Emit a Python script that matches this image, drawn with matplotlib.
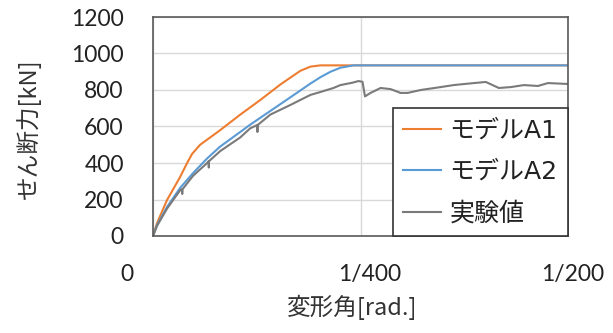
import matplotlib
matplotlib.use("Agg")
import matplotlib.pyplot as plt
from matplotlib.transforms import ScaledTranslation
import numpy as np

# drift angle in 1e-3 rad, shear force in kN
a1_x = [0, 0.048, 0.169, 0.326, 0.411, 0.471, 0.568, 0.809, 1.051, 1.292, 1.534, 1.775, 1.896, 2.017, 5.0]
a1_y = [0, 70, 197, 323, 400, 450, 500, 580, 665, 745, 830, 905, 928, 935, 935]

a2_x = [0, 0.048, 0.169, 0.326, 0.483, 0.652, 0.809, 1.051, 1.171, 1.413, 1.655, 1.896, 2.017, 2.138, 2.258, 2.415, 5.0]
a2_y = [0, 60, 159, 263, 345, 425, 490, 570, 610, 685, 760, 835, 870, 900, 922, 935, 935]

exp_x = [0, 0.048, 0.169, 0.326, 0.350, 0.352, 0.355, 0.483, 0.652, 0.670, 0.672, 0.675,
         0.809, 1.051, 1.171, 1.256, 1.258, 1.261, 1.413, 1.655, 1.896, 2.017, 2.174, 2.258,
         2.403, 2.476, 2.524, 2.554, 2.621, 2.742, 2.862, 2.983, 3.068, 3.225, 3.466, 3.623,
         3.865, 4.010, 4.167, 4.312, 4.469, 4.638, 4.758, 5.0]
exp_y = [0, 55, 150, 250, 256, 230, 256, 330, 400, 410, 375, 410,
         465, 540, 590, 608, 570, 608, 665, 718, 773, 789, 811, 827,
         840, 849, 845, 765, 784, 811, 805, 784, 784, 800, 816, 827,
         838, 844, 811, 816, 827, 822, 838, 833]

series_labels = ["モデルA1", "モデルA2", "実験値"]
series_colors = ["#ED7D31", "#5B9BD5", "#7A7A7A"]
x_ticks = [0, 1/400, 1/200]
x_tick_labels = ["0", "1/400", "1/200"]
y_ticks = [0, 200, 400, 600, 800, 1000, 1200]

JP = ["Noto Sans CJK JP", "DejaVu Sans"]
LEG = ["DejaVu Sans", "Noto Sans CJK JP"]
NUM = ["Lato", "DejaVu Sans"]

fig = plt.figure(figsize=(6.13, 3.33), dpi=100)
ax = fig.add_axes([153/613, 1-236/333, 415/613, 219/333])

for xs, ys, lab, col in zip([a1_x, a2_x, exp_x], [a1_y, a2_y, exp_y], series_labels, series_colors):
    ax.plot(np.array(xs)*1e-3, ys, color=col, lw=1.5, label=lab, solid_joinstyle="round")

ax.set_xlim(0, 0.005)
ax.set_ylim(0, 1200)
ax.set_xticks(x_ticks)
ax.set_xticklabels(x_tick_labels, family=NUM, fontsize=16.5, color="#222222")
ax.set_yticks(y_ticks)
ax.set_yticklabels([str(v) for v in y_ticks], family=NUM, fontsize=16.5, color="#222222")
ax.tick_params(axis="x", length=0, pad=20)
ax.tick_params(axis="y", length=0, pad=21)
offs = [-26, 9, 5]
for lbl, dx in zip(ax.get_xticklabels(), offs):
    lbl.set_transform(lbl.get_transform() + ScaledTranslation(dx/100, 0, fig.dpi_scale_trans))

ax.grid(True, color="#D9D9D9", lw=1)
ax.set_axisbelow(True)
for s in ax.spines.values():
    s.set_color("#595959")
    s.set_linewidth(1.2)

ax.set_ylabel("せん断力[kN]", family=JP, fontsize=17, color="#333333")
ax.yaxis.set_label_coords((28-153)/415, (236-129)/219)
ax.yaxis.label.set_va("center")
ax.set_xlabel("変形角[rad.]", family=JP, fontsize=17, color="#333333")
ax.xaxis.set_label_coords((352-153)/415, (236-307)/219)
ax.xaxis.label.set_va("center")

leg = ax.legend(loc="lower right", bbox_to_anchor=(1.0, 0.0), borderaxespad=0.0,
                prop={"family": LEG, "size": 18}, handlelength=1.5, handletextpad=0.35,
                borderpad=0.42, labelspacing=0.7, fancybox=False, framealpha=1,
                edgecolor="#333333")
leg.get_frame().set_linewidth(1.2)
for t in leg.get_texts():
    t.set_color("#222222")

fig.savefig("out.png", dpi=100)
